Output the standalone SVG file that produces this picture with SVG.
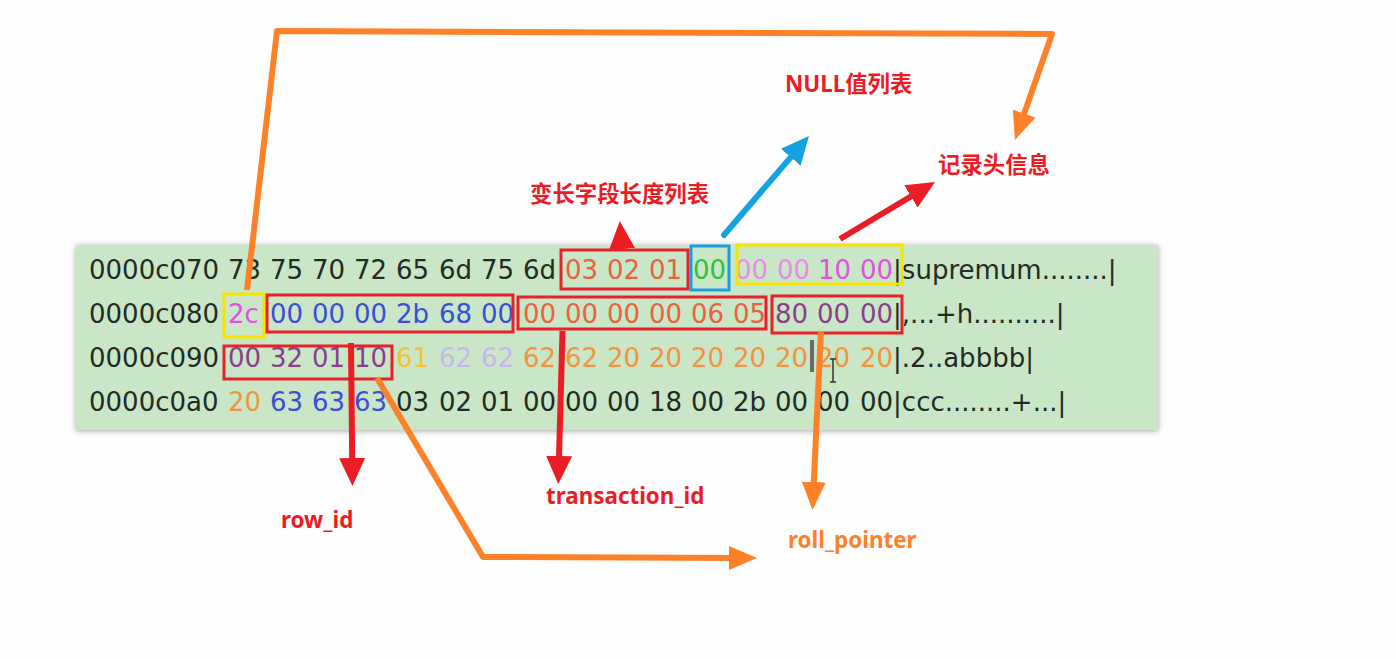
<svg xmlns="http://www.w3.org/2000/svg" width="1396" height="659" viewBox="0 0 1396 659">
<style>
.hex{font-family:'DejaVu Sans',Verdana,sans-serif;font-size:26px;fill:#222b24}
.or{fill:#e8623c}.gr{fill:#2fc23a}.pk{fill:#e88ae8}.mg{fill:#e052e0}.bl{fill:#3a4ed6}.pu{fill:#8b3e8b}.ye{fill:#f2c230}.lv{fill:#c6b6ec}.og{fill:#f29440}
.lbl{font-family:'Noto Sans','Noto Sans CJK SC',sans-serif;font-weight:bold;font-size:22.4px;fill:#ec1c24}
.rb{fill:none;stroke:#e8202a;stroke-width:3}
.yb{fill:none;stroke:#f5e500;stroke-width:3}
.cb{fill:none;stroke:#1a9ee0;stroke-width:3}
.ar{fill:none;stroke:#ec1c24;stroke-width:6;stroke-linejoin:round}
.ao{fill:none;stroke:#fd8128;stroke-width:6;stroke-linejoin:round}
.ab{fill:none;stroke:#14a2e2;stroke-width:6;stroke-linecap:round}
</style>
<defs>
<filter id="sh" x="-5%" y="-20%" width="110%" height="140%"><feDropShadow dx="0" dy="1" stdDeviation="3" flood-color="#000" flood-opacity="0.35"/></filter>
<marker id="mr" markerUnits="userSpaceOnUse" markerWidth="28" markerHeight="26" viewBox="0 0 28 26" refX="13" refY="13" orient="auto"><path d="M0,0 L28,13 L0,26 z" fill="#ec1c24"/></marker>
<marker id="mo" markerUnits="userSpaceOnUse" markerWidth="28" markerHeight="24" viewBox="0 0 28 24" refX="13" refY="12" orient="auto"><path d="M0,0 L28,12 L0,24 z" fill="#fd8128"/></marker>
<marker id="mb" markerUnits="userSpaceOnUse" markerWidth="28" markerHeight="26" viewBox="0 0 28 26" refX="13" refY="13" orient="auto"><path d="M0,0 L28,13 L0,26 z" fill="#14a2e2"/></marker>
</defs>
<rect width="1396" height="659" fill="#fefefe"/>
<g id="hexpanel">
<rect x="76" y="245" width="1082" height="185" fill="#c9e6c6" filter="url(#sh)"/>
<text class="hex" y="279"><tspan x="89">0000c070</tspan><tspan x="228">73</tspan><tspan x="270">75</tspan><tspan x="312">70</tspan><tspan x="354">72</tspan><tspan x="396">65</tspan><tspan x="439">6d</tspan><tspan x="481">75</tspan><tspan x="523">6d</tspan><tspan x="565" class="or">03</tspan><tspan x="607" class="or">02</tspan><tspan x="649" class="or">01</tspan><tspan x="693" class="gr">00</tspan><tspan x="735" class="pk">00</tspan><tspan x="777" class="pk">00</tspan><tspan x="818" class="mg">10</tspan><tspan x="860" class="mg">00</tspan><tspan>|supremum........|</tspan></text>
<text class="hex" y="323"><tspan x="89">0000c080</tspan><tspan x="228" class="mg">2c</tspan><tspan x="270" class="bl">00</tspan><tspan x="312" class="bl">00</tspan><tspan x="354" class="bl">00</tspan><tspan x="396" class="bl">2b</tspan><tspan x="439" class="bl">68</tspan><tspan x="481" class="bl">00</tspan><tspan x="523" class="or">00</tspan><tspan x="565" class="or">00</tspan><tspan x="607" class="or">00</tspan><tspan x="649" class="or">00</tspan><tspan x="691" class="or">06</tspan><tspan x="733" class="or">05</tspan><tspan x="775" class="pu">80</tspan><tspan x="817" class="pu">00</tspan><tspan x="860" class="pu">00</tspan><tspan>|,...+h..........|</tspan></text>
<text class="hex" y="367"><tspan x="89">0000c090</tspan><tspan x="228" class="pu">00</tspan><tspan x="270" class="pu">32</tspan><tspan x="312" class="pu">01</tspan><tspan x="354" class="pu">10</tspan><tspan x="396" class="ye">61</tspan><tspan x="439" class="lv">62</tspan><tspan x="481" class="lv">62</tspan><tspan x="523" class="og">62</tspan><tspan x="565" class="og">62</tspan><tspan x="607" class="og">20</tspan><tspan x="649" class="og">20</tspan><tspan x="691" class="og">20</tspan><tspan x="733" class="og">20</tspan><tspan x="775" class="og">20</tspan><tspan x="817" class="og">20</tspan><tspan x="860" class="og">20</tspan><tspan>|.2..abbbb|</tspan></text>
<text class="hex" y="411"><tspan x="89">0000c0a0</tspan><tspan x="228" class="og">20</tspan><tspan x="270" class="bl">63</tspan><tspan x="312" class="bl">63</tspan><tspan x="354" class="bl">63</tspan><tspan x="396">03</tspan><tspan x="439">02</tspan><tspan x="481">01</tspan><tspan x="523">00</tspan><tspan x="565">00</tspan><tspan x="607">00</tspan><tspan x="649">18</tspan><tspan x="691">00</tspan><tspan x="733">2b</tspan><tspan x="775">00</tspan><tspan x="817">00</tspan><tspan x="860">00</tspan><tspan>|ccc........+...|</tspan></text>
<rect x="810" y="340" width="4" height="32" fill="#6b6b6b"/>
<path d="M830,359 h6 M833,359 v23 M830,382 h6" stroke="#333" stroke-width="1.5" fill="none"/>
</g>
<g id="boxes">
<rect class="rb" x="561" y="250" width="127" height="39"/>
<rect class="cb" x="691" y="246" width="38" height="44"/>
<rect class="yb" x="737" y="245" width="165" height="39"/>
<rect class="yb" x="224" y="294" width="40" height="43"/>
<rect class="rb" x="267" y="295" width="246" height="37"/>
<rect class="rb" x="518" y="297" width="248" height="32"/>
<rect class="rb" x="772" y="296" width="130" height="37"/>
<rect class="rb" x="224" y="346" width="168" height="33"/>
</g>
<g id="connectors">
<polyline class="ao" points="247,290 277,31 1052,34 1019.9,125.8" marker-end="url(#mo)"/>
<polyline class="ao" points="377,378 483,557 742,558" marker-end="url(#mo)"/>
<line class="ao" x1="821" y1="331" x2="813.2" y2="495" marker-end="url(#mo)"/>
<line class="ar" x1="351" y1="343" x2="352.3" y2="471" marker-end="url(#mr)"/>
<line class="ar" x1="562.5" y1="331" x2="558.7" y2="469" marker-end="url(#mr)"/>
<line class="ar" x1="622" y1="249" x2="621" y2="236" marker-end="url(#mr)"/>
<line class="ar" x1="840" y1="239" x2="922.1" y2="189.7" marker-end="url(#mr)"/>
<line class="ab" x1="724" y1="235" x2="799.2" y2="147.4" marker-end="url(#mb)"/>
</g>
<g id="labels">
<text id="null-list" class="lbl" x="785" y="92">NULL值列表</text>
<text id="record-header" class="lbl" x="938" y="173">记录头信息</text>
<text id="var-len-list" class="lbl" x="530" y="202">变长字段长度列表</text>
<text id="row-id" class="lbl" x="281" y="528">row_id</text>
<text id="transaction-id" class="lbl" x="546" y="504">transaction_id</text>
<text id="roll-pointer" class="lbl" x="788" y="548" style="fill:#fd8128">roll_pointer</text>
</g>
</svg>
